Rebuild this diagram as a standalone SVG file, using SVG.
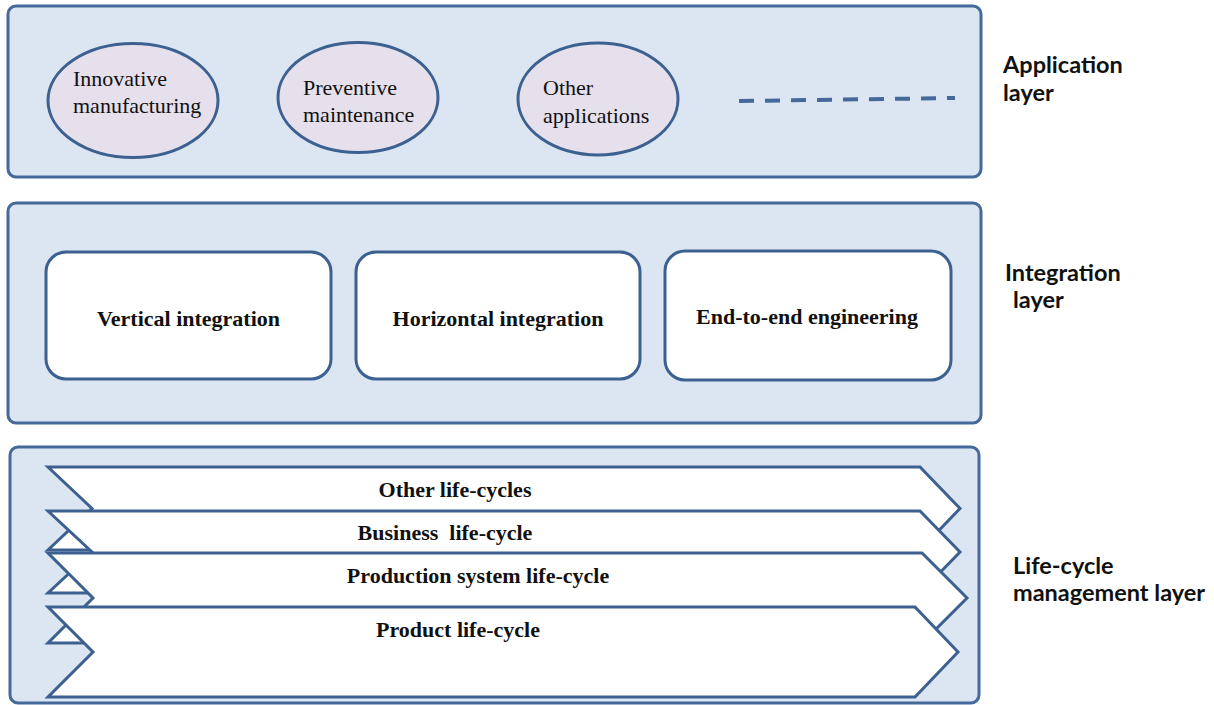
<svg xmlns="http://www.w3.org/2000/svg" width="1214" height="705" viewBox="0 0 1214 705">
  <style>
    .layer { fill: #dce6f2; stroke: #44699a; stroke-width: 3; }
    .app { fill: #e6e0ec; stroke: #3c6190; stroke-width: 3; }
    .box { fill: #ffffff; stroke: #3c6190; stroke-width: 3; }
    .chev { fill: #ffffff; stroke: #3c6190; stroke-width: 3; stroke-linejoin: miter; }
    .serif { font-family: "Liberation Serif", "Times New Roman", serif; fill: #111111; }
    .reg { font-size: 22px; }
    .bold { font-size: 22px; font-weight: bold; text-anchor: middle; }
    .side { font-family: Lato, "Open Sans", "Liberation Sans", sans-serif; font-size: 23.5px; font-weight: bold; fill: #111111; }
  </style>
  <rect width="1214" height="705" fill="#ffffff"/>

  <!-- Application layer -->
  <g id="application-layer">
    <rect class="layer" x="8" y="6" width="973" height="171" rx="8"/>
    <text class="side" x="1003" y="73">Application</text>
    <text class="side" x="1003" y="101">layer</text>
  </g>
  <g id="innovative-manufacturing">
    <ellipse class="app" cx="133" cy="100.5" rx="85" ry="57"/>
    <text class="serif reg" x="73" y="86">Innovative</text>
    <text class="serif reg" x="73" y="113">manufacturing</text>
  </g>
  <g id="preventive-maintenance">
    <ellipse class="app" cx="358" cy="97.5" rx="80" ry="55"/>
    <text class="serif reg" x="303" y="95">Preventive</text>
    <text class="serif reg" x="303" y="122">maintenance</text>
  </g>
  <g id="other-applications">
    <ellipse class="app" cx="598" cy="99" rx="80" ry="56"/>
    <text class="serif reg" x="543" y="95">Other</text>
    <text class="serif reg" x="543" y="123">applications</text>
  </g>
  <g id="more-applications">
    <line x1="739" y1="101" x2="955" y2="98" stroke="#44699a" stroke-width="4" stroke-dasharray="15 11"/>
  </g>

  <!-- Integration layer -->
  <g id="integration-layer">
    <rect class="layer" x="8" y="203" width="973" height="220" rx="8"/>
    <text class="side" x="1005" y="281">Integration</text>
    <text class="side" x="1013" y="308">layer</text>
  </g>
  <g id="vertical-integration">
    <rect class="box" x="46" y="252" width="285" height="127" rx="20"/>
    <text class="serif bold" x="188.5" y="326">Vertical integration</text>
  </g>
  <g id="horizontal-integration">
    <rect class="box" x="356" y="252" width="284" height="127" rx="20"/>
    <text class="serif bold" x="498" y="326">Horizontal integration</text>
  </g>
  <g id="end-to-end-engineering">
    <rect class="box" x="665" y="251" width="286" height="129" rx="20"/>
    <text class="serif bold" x="807" y="324">End-to-end engineering</text>
  </g>

  <!-- Life-cycle management layer -->
  <g id="lifecycle-layer">
    <rect class="layer" x="10" y="447" width="969" height="256" rx="8"/>
    <text class="side" x="1013" y="574">Life-cycle</text>
    <text class="side" x="1013" y="601">management layer</text>
  </g>
  <g id="other-life-cycles">
    <polygon class="chev" points="48,467 920,467 960,508.5 920,550 48,550 92,508.5"/>
    <text class="serif bold" x="455" y="497">Other life-cycles</text>
  </g>
  <g id="business-life-cycle">
    <polygon class="chev" points="48,511 920,511 960,552 920,593 48,593 92,552"/>
    <text class="serif bold" x="445" y="540" xml:space="preserve">Business  life-cycle</text>
  </g>
  <g id="production-system-life-cycle">
    <polygon class="chev" points="48,553 922,553 967,598 922,643 48,643 93,598"/>
    <text class="serif bold" x="478" y="583">Production system life-cycle</text>
  </g>
  <g id="product-life-cycle">
    <polygon class="chev" points="48,607 915,607 958,652 915,697 48,697 93,652"/>
    <text class="serif bold" x="458" y="637">Product life-cycle</text>
  </g>

  <g id="connectors"/>
</svg>
